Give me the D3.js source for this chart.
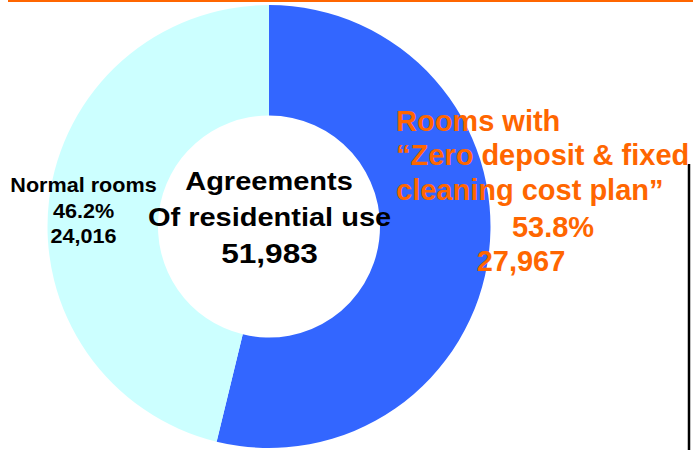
<!DOCTYPE html>
<html>
<head>
<meta charset="utf-8">
<script src="https://cdn.jsdelivr.net/npm/d3@7"></script>
<style>
  html, body { margin: 0; padding: 0; background: #fff; }
  svg { display: block; }
  text { font-family: "Liberation Sans", Arial, sans-serif; font-weight: bold; }
</style>
</head>
<body>
<svg id="chart" width="693" height="450"></svg>
<script>
const categories = ["Rooms with “Zero deposit & fixed cleaning cost plan”", "Normal rooms"];
const values = [27967, 24016];
const percents = ["53.8%", "46.2%"];
const valueLabels = ["27,967", "24,016"];
const totalLabel = "51,983";
const colors = ["#3366FF", "#CCFFFF"];

const svg = d3.select("#chart");
const cx = 269, cy = 226.5, R = 221.5, r = 111;

// top orange rule
svg.append("line").attr("x1", 8).attr("x2", 693).attr("y1", 1).attr("y2", 1)
  .attr("stroke", "#FF6600").attr("stroke-width", 2);

// right black rule
svg.append("line").attr("x1", 689).attr("x2", 689).attr("y1", 164).attr("y2", 450)
  .attr("stroke", "#000").attr("stroke-width", 2.5);

const pie = d3.pie().sort(null).value(d => d)(values);
const arc = d3.arc().innerRadius(r).outerRadius(R);
const g = svg.append("g").attr("transform", `translate(${cx},${cy})`);
g.selectAll("path").data(pie).enter().append("path")
  .attr("d", arc).attr("fill", (d, i) => colors[i]);

function txt(x, y, s, size, fill, anchor, sx) {
  const t = svg.append("text")
    .attr("transform", `translate(${x},${y}) scale(${sx || 1},1)`)
    .attr("font-size", size).attr("fill", fill)
    .attr("text-anchor", anchor || "middle").text(s);
  return t;
}

// center labels
txt(269, 190, "Agreements", 25, "#000", "middle", 1.16);
txt(269.5, 226, "Of residential use", 25, "#000", "middle", 1.16);
txt(269.5, 263, totalLabel, 28, "#000", "middle", 1.13);

// Normal rooms label
txt(83.5, 192, categories[1], 20, "#000", "middle", 1.08);
txt(83.5, 218, percents[1], 20, "#000", "middle", 1.08);
txt(83.5, 243, valueLabels[1], 20, "#000", "middle", 1.08);

// Zero deposit label
const orange = "#FF6600";
txt(396, 131, "Rooms with", 29, orange, "start");
txt(396, 165, "“Zero deposit & fixed", 29, orange, "start");
txt(396, 200, "cleaning cost plan”", 29, orange, "start");
txt(553, 237, percents[0], 29, orange, "middle");
txt(521, 271, valueLabels[0], 29, orange, "middle");
</script>
</body>
</html>
